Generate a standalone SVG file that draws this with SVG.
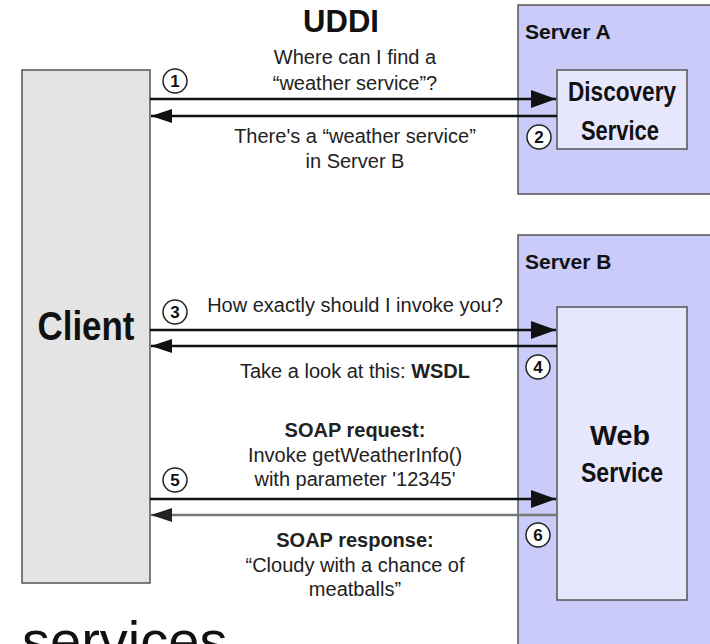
<svg xmlns="http://www.w3.org/2000/svg" width="710" height="644" viewBox="0 0 710 644">
<style>
.server{fill:#cbcbf9;stroke:#555;stroke-width:1.5}
.inner{fill:#e6e6fc;stroke:#555;stroke-width:1.5}
.client{fill:#e4e4e4;stroke:#555;stroke-width:1.5}
.t{font-family:"Liberation Sans",Arial,sans-serif;fill:#222;font-size:20px;text-anchor:middle}
.b{font-weight:bold}
.lbl{font-family:"Liberation Sans",Arial,sans-serif;fill:#111;font-weight:bold}
.num circle{fill:#fff;stroke:#222;stroke-width:1.5}
.num text{font-family:"Liberation Sans",Arial,sans-serif;font-size:17px;font-weight:bold;fill:#111;text-anchor:middle}
.arr{stroke:#111;stroke-width:2.5;fill:none}
</style>
<defs>
<marker id="fwd" markerUnits="userSpaceOnUse" markerWidth="26" markerHeight="18" refX="25" refY="9" orient="auto">
<path d="M0,0 L25,9 L0,18 Z" fill="#111"/>
</marker>
<marker id="back" markerUnits="userSpaceOnUse" markerWidth="22" markerHeight="14" refX="21" refY="7" orient="auto">
<path d="M0,0 L21,7 L0,14 Z" fill="#111"/>
</marker>
<marker id="backg" markerUnits="userSpaceOnUse" markerWidth="22" markerHeight="14" refX="21" refY="7" orient="auto">
<path d="M0,0 L21,7 L0,14 Z" fill="#222"/>
</marker>
</defs>
<rect width="710" height="644" fill="#fff"/>

<text class="lbl" x="341" y="32" font-size="31" text-anchor="middle">UDDI</text>

<g id="serverA">
<rect class="server" x="518" y="5" width="200" height="189"/>
<text class="lbl" x="525" y="39" font-size="21">Server A</text>
</g>
<g id="discovery">
<rect class="inner" x="557" y="70" width="130" height="79"/>
<text class="lbl" x="622" y="101" font-size="28" text-anchor="middle" textLength="108" lengthAdjust="spacingAndGlyphs">Discovery</text>
<text class="lbl" x="620" y="140" font-size="28" text-anchor="middle" textLength="78" lengthAdjust="spacingAndGlyphs">Service</text>
</g>
<g id="serverB">
<rect class="server" x="518" y="235" width="200" height="420"/>
<text class="lbl" x="525" y="269" font-size="21">Server B</text>
</g>
<g id="webservice">
<rect class="inner" x="557" y="307" width="130" height="293"/>
<text class="lbl" x="620" y="445" font-size="27" text-anchor="middle" textLength="60" lengthAdjust="spacingAndGlyphs">Web</text>
<text class="lbl" x="622" y="482" font-size="27" text-anchor="middle" textLength="82" lengthAdjust="spacingAndGlyphs">Service</text>
</g>
<g id="client">
<rect class="client" x="22" y="70" width="128" height="513"/>
<text class="lbl" x="86" y="340" font-size="40" text-anchor="middle" textLength="97" lengthAdjust="spacingAndGlyphs">Client</text>
</g>

<g id="connectors">
<line class="arr" x1="150" y1="99" x2="556" y2="99" marker-end="url(#fwd)"/>
<line class="arr" x1="557" y1="116" x2="151" y2="116" marker-end="url(#back)"/>
<line class="arr" x1="150" y1="330" x2="556" y2="330" marker-end="url(#fwd)"/>
<line class="arr" x1="557" y1="346" x2="151" y2="346" marker-end="url(#back)"/>
<line class="arr" x1="150" y1="499" x2="556" y2="499" marker-end="url(#fwd)"/>
<line class="arr" x1="557" y1="515" x2="151" y2="515" stroke="#777" style="stroke:#777" marker-end="url(#backg)"/>
</g>

<g id="labels">
<text class="t" x="355" y="64">Where can I find a</text>
<text class="t" x="355" y="90">“weather service”?</text>
<text class="t" x="355" y="143">There's a “weather service”</text>
<text class="t" x="355" y="168">in Server B</text>
<text class="t" x="355" y="312">How exactly should I invoke you?</text>
<text class="t" x="355" y="378">Take a look at this: <tspan class="b">WSDL</tspan></text>
<text class="t b" x="355" y="437">SOAP request:</text>
<text class="t" x="355" y="462">Invoke getWeatherInfo()</text>
<text class="t" x="355" y="486">with parameter '12345'</text>
<text class="t b" x="355" y="547">SOAP response:</text>
<text class="t" x="355" y="572">“Cloudy with a chance of</text>
<text class="t" x="355" y="596">meatballs”</text>
</g>

<g id="numbers" class="num">
<circle cx="175" cy="81" r="12"/><text x="175" y="87">1</text>
<circle cx="539" cy="137" r="12"/><text x="539" y="143">2</text>
<circle cx="175" cy="312" r="12"/><text x="175" y="318">3</text>
<circle cx="538" cy="367" r="12"/><text x="538" y="373">4</text>
<circle cx="175" cy="480" r="12"/><text x="175" y="486">5</text>
<circle cx="538" cy="535" r="12"/><text x="538" y="541">6</text>
</g>

<text x="22" y="660" font-family="'Liberation Sans',Arial,sans-serif" font-size="56" fill="#111">services</text>
</svg>
